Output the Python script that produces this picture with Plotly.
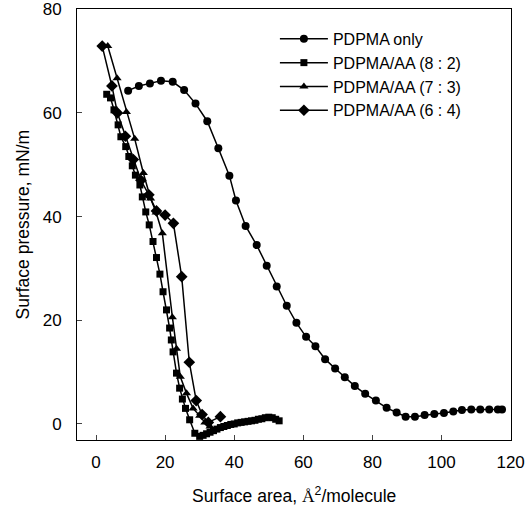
import plotly.graph_objects as go

# PDPMA only
x_only = [9.3, 12.4, 15.6, 18.8, 22.2, 25.5, 28.8, 32.2, 35.4, 38.6, 40.5, 43.3, 46.5, 49.4, 52.3,
          55.2, 58.0, 60.8, 63.5, 66.3, 69.2, 72.0, 74.9, 77.9, 81.0, 84.1, 87.0, 89.6, 92.3,
          95.1, 97.9, 100.7, 103.4, 105.9, 108.6, 111.2, 113.8, 116.3, 117.5]
y_only = [64.3, 65.2, 65.7, 66.2, 66.0, 64.4, 61.8, 58.4, 53.2, 47.9, 43.1, 38.2, 34.5, 30.5, 26.5,
          22.8, 19.5, 16.8, 15.0, 12.5, 10.7, 9.0, 7.3, 5.8, 4.5, 3.1, 2.2, 1.4, 1.4,
          1.7, 1.9, 2.1, 2.4, 2.7, 2.8, 2.8, 2.8, 2.8, 2.8]

# PDPMA/AA (8:2)
x_82 = [3.1, 4.2, 5.2, 6.4, 7.2, 8.6, 9.5, 10.5, 11.4, 12.7, 13.4, 14.4, 15.4, 16.5, 17.5, 18.5,
        19.4, 20.4, 21.3, 21.8, 22.3, 23.3, 24.2, 25.0, 25.9, 27.1, 28.6, 30.0, 31.0, 32.0, 33.0,
        34.0, 35.0, 36.0, 37.0, 38.0, 39.0, 40.0, 41.0, 42.0, 43.0, 44.0, 45.0, 46.0, 47.0, 48.0,
        49.0, 50.0, 51.0, 52.0, 53.0]
y_82 = [63.6, 62.9, 60.6, 57.7, 55.4, 53.5, 51.6, 49.8, 48.0, 46.1, 43.8, 40.9, 38.4, 35.2, 32.1, 28.9,
        25.5, 22.0, 18.5, 16.2, 13.9, 9.8, 6.9, 4.8, 3.0, 0.8, -1.8, -2.4, -2.2, -1.9, -1.6,
        -1.3, -1.0, -0.7, -0.5, -0.3, -0.1, 0.0, 0.2, 0.3, 0.4, 0.5, 0.6, 0.7, 0.9, 1.0,
        1.2, 1.3, 1.2, 0.9, 0.6]

# PDPMA/AA (7:3)
x_73 = [3.4, 6.1, 8.8, 11.2, 13.7, 15.8, 17.4, 19.2, 22.1, 23.3, 24.4, 26.2, 28.1, 30.0, 31.5, 33.0]
y_73 = [72.9, 66.7, 60.2, 55.0, 48.4, 43.5, 40.8, 36.8, 20.6, 14.5, 9.1, 5.9, 3.0, 1.6, 0.3, -0.5]

# PDPMA/AA (6:4)
x_64 = [1.8, 4.6, 6.2, 8.5, 10.8, 13.0, 15.3, 17.5, 20.0, 22.4, 24.8, 27.0, 29.0, 30.7, 32.5, 36.0]
y_64 = [72.9, 65.2, 60.0, 55.5, 51.0, 47.0, 44.2, 41.1, 40.3, 38.7, 28.4, 11.9, 4.5, 1.8, 0.3, 1.4]

names = ["PDPMA only", "PDPMA/AA (8 : 2)", "PDPMA/AA (7 : 3)", "PDPMA/AA (6 : 4)"]
xs = [x_only, x_82, x_73, x_64]
ys = [y_only, y_82, y_73, y_64]
symbols = ["circle", "square", "triangle-up", "diamond"]
sizes = [8, 7, 8, 9]

x_ticks = [0, 20, 40, 60, 80, 100, 120]
y_ticks = [0, 20, 40, 60, 80]
x_title = "Surface area, <span style='font-family:Liberation Serif'>Å</span><sup>2</sup>/molecule"
y_title = "Surface pressure, mN/m"

fig = go.Figure()
for x, y, n, s, sz in zip(xs, ys, names, symbols, sizes):
    fig.add_trace(go.Scatter(x=x, y=y, name=n, mode="lines+markers",
                             line=dict(color="black", width=1.5),
                             marker=dict(symbol=s, size=sz, color="black")))

font_family = "Liberation Sans, Arial, sans-serif"
fig.update_layout(
    width=529, height=513,
    margin=dict(l=77, r=18, t=9, b=73),
    paper_bgcolor="white", plot_bgcolor="white",
    font=dict(family=font_family, size=17, color="black"),
    showlegend=True,
    legend=dict(x=0.456, y=0.97, xanchor="left", yanchor="top",
                bgcolor="rgba(0,0,0,0)", font=dict(size=16), tracegroupgap=0,
                itemwidth=48),
    xaxis=dict(range=[-5.5, 120.1], tickvals=x_ticks, ticks="inside", ticklen=5,
               showgrid=False, zeroline=False, showline=True, linecolor="black",
               linewidth=1, mirror=True, ticklabelstandoff=7, automargin=False),
    yaxis=dict(range=[-3.1, 80.05], tickvals=y_ticks, ticks="inside", ticklen=5,
               showgrid=False, zeroline=False, showline=True, linecolor="black",
               linewidth=1, mirror=True, ticklabelstandoff=11, automargin=False),
    annotations=[
        dict(text=x_title, xref="paper", yref="paper", x=0.5, y=-0.1276,
             xanchor="center", yanchor="middle", showarrow=False, font=dict(size=17.5)),
        dict(text=y_title, xref="paper", yref="paper", x=-0.1267, y=0.5,
             xanchor="center", yanchor="middle", showarrow=False, textangle=-90,
             font=dict(size=17.5)),
    ],
)
fig.write_html("out.html", config={"displayModeBar": False},
               post_script="document.body.style.margin='0';document.body.style.overflow='hidden';")
